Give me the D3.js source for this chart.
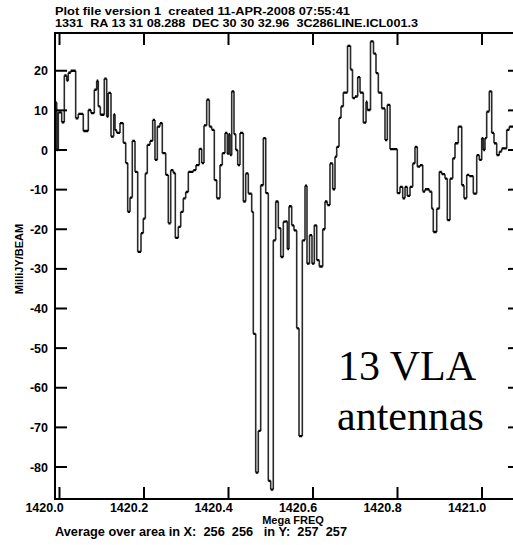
<!DOCTYPE html>
<html><head><meta charset="utf-8">
<script src="https://cdn.jsdelivr.net/npm/d3@7"></script>
<style>
body{margin:0;background:#fff;}
svg{display:block;}
text{font-family:"Liberation Sans",Arial,Helvetica,sans-serif;font-weight:bold;fill:#000;white-space:pre;}
</style>
</head><body>
<svg id="chart" width="513" height="545"></svg>
<script>
// ---------- data ----------
const titleLines = [
  "Plot file version 1  created 11-APR-2008 07:55:41",
  "1331  RA 13 31 08.288  DEC 30 30 32.96  3C286LINE.ICL001.3"
];
const xLabel = "Mega FREQ";
const yLabel = "MilliJY/BEAM";
const footer = "Average over area in X:  256  256   in Y:  257  257";
const annotation = ["13 VLA", "antennas"];

const xTicks = [1420.0, 1420.2, 1420.4, 1420.6, 1420.8, 1421.0];
const yTicks = [20, 10, 0, -10, -20, -30, -40, -50, -60, -70, -80];

// step start frequency of each plotted bin (MHz)
const freqMHz = [
  1419.9893,1419.9934,1419.9972,1420.0052,1420.0114,1420.0170,1420.0208,1420.0265,1420.0383,1420.0445,
  1420.0563,1420.0682,1420.0746,1420.0824,1420.0880,1420.0918,1420.0966,1420.1060,1420.1117,1420.1155,
  1420.1219,1420.1283,1420.1314,1420.1354,1420.1432,1420.1510,1420.1567,1420.1614,1420.1669,1420.1723,
  1420.1787,1420.1851,1420.1929,1420.1983,1420.2031,1420.2078,1420.2142,1420.2206,1420.2260,1420.2315,
  1420.2379,1420.2433,1420.2514,1420.2575,1420.2632,1420.2694,1420.2741,1420.2812,1420.2869,1420.2930,
  1420.2987,1420.3049,1420.3167,1420.3231,1420.3309,1420.3366,1420.3420,1420.3484,1420.3546,1420.3602,
  1420.3664,1420.3721,1420.3799,1420.3853,1420.3917,1420.3972,1420.4005,1420.4036,1420.4076,1420.4130,
  1420.4171,1420.4218,1420.4272,1420.4350,1420.4407,1420.4469,1420.4549,1420.4587,1420.4644,1420.4705,
  1420.4762,1420.4824,1420.4881,1420.4942,1420.4999,1420.5060,1420.5117,1420.5179,1420.5236,1420.5297,
  1420.5354,1420.5392,1420.5432,1420.5496,1420.5550,1420.5614,1420.5669,1420.5747,1420.5811,1420.5858,
  1420.5917,1420.5976,1420.6031,1420.6088,1420.6149,1420.6230,1420.6284,1420.6339,1420.6402,1420.6466,
  1420.6521,1420.6561,1420.6616,1420.6663,1420.6717,1420.6817,1420.6888,1420.6935,1420.6994,1420.7058,
  1420.7113,1420.7191,1420.7255,1420.7285,1420.7361,1420.7432,1420.7491,1420.7546,1420.7626,1420.7704,
  1420.7759,1420.7823,1420.7995,1420.8059,1420.8123,1420.8178,1420.8232,1420.8296,1420.8360,1420.8414,
  1420.8469,1420.8533,1420.8597,1420.8651,1420.8753,1420.8810,1420.8847,1420.8928,1420.8990,1420.9046,
  1420.9124,1420.9179,1420.9243,1420.9307,1420.9361,1420.9439,1420.9520,1420.9574,1420.9638,1420.9700,
  1420.9794,1420.9875,1420.9936,1420.9993,1421.0031,1421.0071,1421.0111,1421.0173,1421.0230,1421.0284,
  1421.0348,1421.0410,1421.0466,1421.0585,1421.0646
];
const freqEndMHz = 1421.0734;

// flux density of each bin (milli-Jy/beam)
const fluxMJy = [
  12,0,9.5,7,18.8,17.5,19.5,20,8,9.1,
  4.8,10.1,9.3,15.2,17.5,11,8.9,18,8.4,14.4,
  3.4,9,5,4.3,6.8,1.8,-3.3,-15.6,-12,2.3,
  -5.5,-25.7,-21,-17.3,-5.9,1.3,2.3,7.6,-2.5,5.9,
  6.8,-0.8,-6.3,-18.5,-5.1,-5.8,-22.2,-19.4,-15.6,-12.2,
  -10.6,-5.5,-5.1,-3.8,0.3,-3.3,6.2,12.7,5.9,5.1,
  -7.6,-12.2,-3.8,-0.8,4.3,-1,4,-1.3,14.8,4,
  0,-3.8,4.3,-13,-5.9,-11,-15.6,-46.4,-81.4,-70.9,
  -8.9,3,-10.9,-83.5,-85.7,-22.8,-13,-19.7,-27,-18.1,
  -18,-25,-14.2,-19,-20.3,-45,-72.2,-22.8,-9,-28.7,
  -21.5,-28.7,-19,-27.8,-29.4,-20,-13,-13.9,-3.4,-9.9,
  -1.7,0.8,8.1,11,14.5,26.3,20.3,13.1,13.5,18.4,
  14.5,6.9,12.2,10.1,27.4,24.3,19.4,14.5,10.5,2.5,
  11.4,0.2,-10.9,-9.3,-12.2,-9.3,-11.6,-9.3,-3.4,0.8,
  -4.2,-3.8,-10.5,-9.9,-10.5,-14.8,-20.7,-14.8,-5.5,-6.1,
  -7.2,-17.7,-7.2,-2.1,1.7,5.9,-8.9,-12.2,-6.3,-6.6,
  -11,-1.3,-2.5,3,0,3,9.7,14.8,4.3,1.7,
  -1.3,-0.4,0.4,5.1,5.9
];

// ---------- layout ----------
const frame = {left: 55, top: 33, right: 520, bottom: 499};
const tickLen = 12;

const svg = d3.select("#chart");
const x = d3.scaleLinear().domain([1420.0, 1421.0]).range([59.5, 482]);
const y = d3.scaleLinear().domain([0, -80]).range([150, 467]);

// titles
const titleY = [15.2, 26.7];
const titleW = [295, 363];
titleLines.forEach((t, i) => {
  svg.append("text").attr("x", 55).attr("y", titleY[i])
    .attr("font-size", 11.2).attr("textLength", titleW[i]).attr("lengthAdjust", "spacingAndGlyphs")
    .text(t);
});

// clip
svg.append("clipPath").attr("id", "plotclip").append("rect")
  .attr("x", frame.left).attr("y", frame.top)
  .attr("width", frame.right - frame.left).attr("height", frame.bottom - frame.top);

// step line: horizontal treads and vertical risers
const data = freqMHz.map((f, i) => ({f0: f, f1: i < freqMHz.length - 1 ? freqMHz[i + 1] : freqEndMHz, v: fluxMJy[i]}));
let hPath = "", vPath = "";
data.forEach((d, i) => {
  hPath += `M${x(d.f0)},${y(d.v)}H${x(d.f1)}`;
  if (i > 0) vPath += `M${x(d.f0)},${y(data[i - 1].v)}V${y(d.v)}`;
});
const g = svg.append("g").attr("clip-path", "url(#plotclip)");
g.append("path").attr("d", vPath).attr("fill", "none").attr("stroke", "#2a2a2a").attr("stroke-width", 1.6);
g.append("path").attr("d", hPath).attr("fill", "none").attr("stroke", "#000").attr("stroke-width", 2.3);

// frame
svg.append("rect").attr("x", frame.left).attr("y", frame.top)
  .attr("width", frame.right - frame.left).attr("height", frame.bottom - frame.top)
  .attr("fill", "none").attr("stroke", "#000").attr("stroke-width", 2);

// ticks (all four sides, pointing inward)
const tk = svg.append("g").attr("stroke", "#000").attr("stroke-width", 2);
xTicks.forEach(t => {
  tk.append("line").attr("x1", x(t)).attr("x2", x(t)).attr("y1", frame.bottom).attr("y2", frame.bottom - tickLen);
  tk.append("line").attr("x1", x(t)).attr("x2", x(t)).attr("y1", frame.top).attr("y2", frame.top + tickLen);
});
yTicks.forEach(t => {
  tk.append("line").attr("y1", y(t)).attr("y2", y(t)).attr("x1", frame.left).attr("x2", frame.left + tickLen);
  tk.append("line").attr("y1", y(t)).attr("y2", y(t)).attr("x1", frame.right).attr("x2", frame.right - tickLen);
});

// tick labels
const fmt = d3.format(".1f");
xTicks.forEach(t => {
  svg.append("text").attr("x", x(t) - 15).attr("y", 511.5).attr("text-anchor", "middle")
    .attr("font-size", 12.5).text(fmt(t));
});
yTicks.forEach(t => {
  svg.append("text").attr("x", 48).attr("y", y(t) + 4.5).attr("text-anchor", "end")
    .attr("font-size", 12.5).text(t);
});

// axis labels
svg.append("text").attr("x", 293).attr("y", 523.5).attr("text-anchor", "middle")
  .attr("font-size", 11).text(xLabel);
svg.append("text").attr("transform", "translate(23,259) rotate(-90)").attr("text-anchor", "middle")
  .attr("font-size", 11).text(yLabel);
svg.append("text").attr("x", 55).attr("y", 536).attr("font-size", 12.5)
  .attr("textLength", 292).attr("lengthAdjust", "spacingAndGlyphs").text(footer);

// annotation
const ann = svg.append("text")
  .style("font-family", "'Liberation Serif','Times New Roman',serif")
  .style("font-weight", "normal").attr("font-size", 42);
ann.append("tspan").attr("x", 338).attr("y", 380).text(annotation[0]);
ann.append("tspan").attr("x", 337).attr("y", 430).text(annotation[1]);
</script>
</body></html>
